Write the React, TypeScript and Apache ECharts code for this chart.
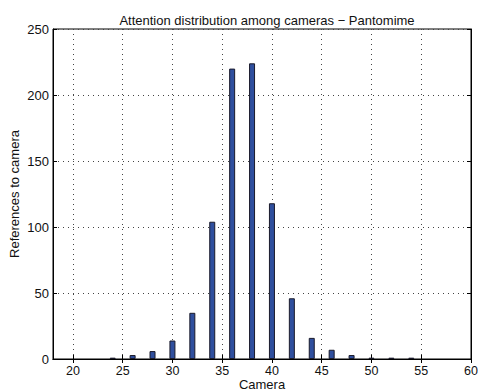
import React, { useEffect, useRef } from "react";
import * as echarts from "echarts";

const cameras = [24, 26, 28, 30, 32, 34, 36, 38, 40, 42, 44, 46, 48, 50, 52, 54];
const references = [1, 3, 6, 14, 35, 104, 220, 224, 118, 46, 16, 7, 3, 1, 1, 1];
const xTicks = [20, 25, 30, 35, 40, 45, 50, 55, 60];
const xGrid = [20, 25, 30, 35, 40, 45, 50, 55];

const FONT = "Liberation Sans, Arial, Helvetica, sans-serif";

export default function App() {
  const ref = useRef<HTMLDivElement>(null);
  useEffect(() => {
    if (!ref.current) return;
    const chart = echarts.init(ref.current, undefined, { renderer: "svg" });
    const dotted = { color: "#444", width: 1, type: [1, 4] as any };
    chart.setOption({
      animation: false,
      backgroundColor: "#fff",
      title: {
        text: "Attention distribution among cameras \u2212 Pantomime",
        left: 262,
        textAlign: "center",
        top: 9,
        textStyle: { fontFamily: FONT, fontSize: 13, fontWeight: "normal", color: "#111" },
      },
      grid: {
        left: 53,
        right: 7,
        top: 29,
        bottom: 33,
        show: true,
        borderColor: "#000",
        borderWidth: 1,
        backgroundColor: "#fff",
        containLabel: false,
        outerBoundsMode: "none",
      },
      xAxis: [
        {
          type: "value",
          min: 18,
          max: 60,
          name: "Camera",
          nameLocation: "middle",
          nameGap: 19,
          nameMoveOverlap: false,
          nameTextStyle: { fontFamily: FONT, fontSize: 13, lineHeight: 13, color: "#111" },
          axisLine: { show: true, lineStyle: { color: "#000" } },
          axisTick: { show: true, inside: true, length: 4, customValues: xTicks, lineStyle: { color: "#000" } },
          axisLabel: { customValues: xTicks, fontFamily: FONT, fontSize: 12.5, lineHeight: 12, color: "#111", margin: 6 },
          splitLine: { show: true, customValues: xGrid, lineStyle: dotted },
        },
        {
          type: "value",
          position: "top",
          min: 18,
          max: 60,
          axisLine: { show: true, lineStyle: { color: "#000" } },
          axisTick: { show: true, inside: true, length: 4, customValues: xTicks, lineStyle: { color: "#000" } },
          axisLabel: { show: false },
          splitLine: { show: false },
        },
      ],
      yAxis: [
        {
          type: "value",
          min: 0,
          max: 250,
          interval: 50,
          name: "References to camera",
          nameLocation: "middle",
          nameGap: 32,
          nameMoveOverlap: false,
          nameTextStyle: { fontFamily: FONT, fontSize: 13, color: "#111" },
          axisLine: { show: true, lineStyle: { color: "#000" } },
          axisTick: { show: true, inside: true, length: 4, lineStyle: { color: "#000" } },
          axisLabel: { fontFamily: FONT, fontSize: 13, color: "#111", margin: 4 },
          splitLine: { show: true, lineStyle: dotted },
        },
        {
          type: "value",
          position: "right",
          min: 0,
          max: 250,
          interval: 50,
          axisLine: { show: true, lineStyle: { color: "#000" } },
          axisTick: { show: true, inside: true, length: 4, lineStyle: { color: "#000" } },
          axisLabel: { show: false },
          splitLine: { show: false },
        },
      ],
      series: [
        {
          type: "bar",
          xAxisIndex: 0,
          yAxisIndex: 0,
          barWidth: 6,
          data: cameras.map((c, i) => [c, references[i]]),
          itemStyle: { color: "#2F4F9E", borderColor: "#1a1a2a", borderWidth: 1 },
        },
      ],
    });
    return () => chart.dispose();
  }, []);
  return (
    <div
      ref={ref}
      style={{ position: "fixed", left: 0, top: 0, width: 478, height: 392, background: "#fff" }}
    />
  );
}
